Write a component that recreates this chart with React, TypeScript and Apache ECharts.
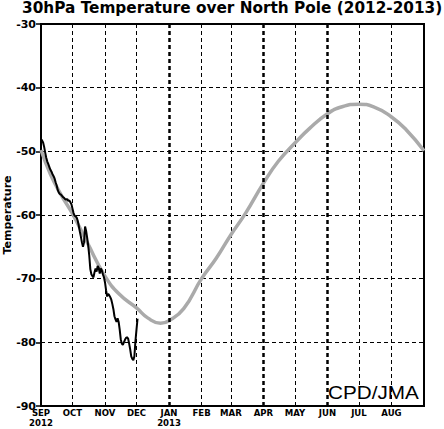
import React, { useEffect, useRef } from "react";
import * as echarts from "echarts";

const TITLE = "30hPa Temperature over North Pole (2012-2013)";
const Y_NAME = "Temperature";
const CREDIT = "CPD/JMA";
const MONTHS = ["JAN", "FEB", "MAR", "APR", "MAY", "JUN", "JUL", "AUG", "SEP", "OCT", "NOV", "DEC"];
const Y_MIN = -90;
const Y_MAX = -30;
const Y_STEP = 10;
const START_DATE = "2012-09-01";
const END_DATE = "2013-09-01";

// climatology (gray)
const climDates = [
  "2012-09-01", "2012-09-10", "2012-09-20", "2012-10-01", "2012-10-15", "2012-11-01",
  "2012-11-15", "2012-12-01", "2012-12-12", "2012-12-24", "2013-01-01", "2013-01-15",
  "2013-02-01", "2013-02-15", "2013-03-01", "2013-03-15", "2013-04-01", "2013-04-15",
  "2013-05-01", "2013-05-15", "2013-06-01", "2013-06-15", "2013-07-01", "2013-07-15",
  "2013-08-01", "2013-08-15", "2013-09-01",
];
const climValues = [
  -49.8, -53.6, -56.8, -59.8, -64.3, -69.6,
  -72.5, -74.6, -76.2, -77.0, -76.6, -74.7,
  -70.0, -66.8, -63.1, -59.7, -55.0, -51.6,
  -48.7, -46.4, -44.1, -43.0, -42.6, -43.0,
  -44.6, -46.6, -49.9,
];

// observed daily values from 2012-09-01 (black)
const obsValues = [
  -48.1, -48.3, -48.6, -49.3, -50.2, -51.0, -51.6, -52.0, -52.5, -52.9,
  -53.2, -53.6, -53.9, -54.3, -54.9, -55.4, -56.1, -56.5, -56.7, -56.8,
  -57.0, -57.2, -57.3, -57.5, -57.6, -57.5, -57.8, -57.7, -58.0, -58.3,
  -59.0, -59.7, -60.1, -60.2, -60.4, -60.9, -61.7, -62.6, -63.4, -64.3,
  -65.0, -64.3, -61.8, -62.5, -63.6, -64.8, -66.4, -68.5, -69.3, -69.6,
  -69.8, -69.0, -68.4, -68.9, -68.0, -68.3, -69.2, -68.4, -68.7, -69.3,
  -69.8, -70.6, -71.8, -72.8, -72.4, -72.6, -72.9, -73.3, -74.0, -74.8,
  -75.9, -76.4, -76.8, -76.2, -76.8, -78.0, -79.5, -80.2, -80.4, -80.0,
  -79.6, -79.3, -79.2, -79.4, -80.2, -81.1, -82.2, -82.6, -82.8, -82.2,
  -79.8, -78.0, -76.3,
];

const boldMonthLines = ["2013-01-01", "2013-04-01", "2013-06-01"];

function buildCategories(start: string, end: string): string[] {
  const out: string[] = [];
  const s = new Date(start + "T00:00:00Z").getTime();
  const e = new Date(end + "T00:00:00Z").getTime();
  for (let t = s; t <= e; t += 86400000) {
    out.push(new Date(t).toISOString().slice(0, 10));
  }
  return out;
}

export default function App() {
  const ref = useRef<HTMLDivElement>(null);

  useEffect(() => {
    if (!ref.current) return;
    const chart = echarts.init(ref.current, null, { renderer: "svg" });
    const cats = buildCategories(START_DATE, END_DATE);
    const lastIdx = cats.length - 1;
    const isMonthStart = (_i: number, v: string) => v.endsWith("-01");
    const isLabel = (i: number, v: string) => v.endsWith("-01") && i !== lastIdx;

    const option: any = {
      animation: false,
      backgroundColor: "#fff",
      title: {
        text: TITLE,
        left: 22,
        top: 0,
        padding: 0,
        textStyle: {
          fontFamily: "DejaVu Sans",
          fontWeight: "bold",
          fontSize: 15.3,
          color: "#000",
        },
      },
      grid: {
        left: 41,
        right: 20,
        top: 24,
        bottom: 23,
        containLabel: false,
        outerBoundsMode: "none",
        show: true,
        borderColor: "#000",
        borderWidth: 2,
        backgroundColor: "transparent",
      },
      xAxis: [
        {
          type: "category",
          data: cats,
          boundaryGap: false,
          position: "bottom",
          axisLine: { show: true, lineStyle: { color: "#000", width: 2 } },
          axisTick: { show: true, inside: true, length: 4, interval: isMonthStart, lineStyle: { color: "#000", width: 1 } },
          splitLine: { show: true, interval: isMonthStart, lineStyle: { color: "#000", width: 1, type: [4, 3] } },
          axisLabel: {
            interval: isLabel,
            margin: 1,
            color: "#000",
            fontFamily: "Liberation Sans Narrow, DejaVu Sans Condensed, sans-serif",
            fontWeight: "bold",
            fontSize: 9.5,
            lineHeight: 10.5,
            formatter: (v: string) => {
              const y = v.slice(0, 4);
              const m = parseInt(v.slice(5, 7), 10);
              const name = MONTHS[m - 1];
              if (v === START_DATE || m === 1) return name + "\n" + y;
              return name;
            },
          },
        },
        {
          type: "category",
          data: cats,
          boundaryGap: false,
          position: "top",
          axisLine: { show: true, lineStyle: { color: "#000", width: 2 } },
          axisTick: { show: true, inside: true, length: 4, interval: isMonthStart, lineStyle: { color: "#000", width: 1 } },
          splitLine: { show: false },
          axisLabel: { show: false },
        },
      ],
      yAxis: {
        type: "value",
        min: Y_MIN,
        max: Y_MAX,
        interval: Y_STEP,
        name: Y_NAME,
        nameLocation: "middle",
        nameGap: 28,
        nameMoveOverlap: false,
        nameTextStyle: {
          fontFamily: "DejaVu Sans",
          fontWeight: "bold",
          fontSize: 11,
          color: "#000",
        },
        axisLine: { show: true, lineStyle: { color: "#000", width: 2 } },
        axisTick: { show: true, inside: false, length: 5, lineStyle: { color: "#000", width: 1.5 } },
        splitLine: { show: true, lineStyle: { color: "#000", width: 1, type: [4, 3] } },
        axisLabel: {
          margin: 5,
          color: "#000",
          fontFamily: "DejaVu Sans",
          fontWeight: "bold",
          fontSize: 11,
        },
      },
      series: [
        {
          type: "line",
          name: "climatology",
          data: climDates.map((d, i) => [d, climValues[i]]),
          smooth: 0.5,
          symbol: "none",
          lineStyle: { color: "#aaaaaa", width: 3.5 },
          z: 2,
          markLine: {
            silent: true,
            symbol: ["none", "none"],
            label: { show: false },
            lineStyle: { color: "#000", width: 2.5, type: [4, 3] },
            data: boldMonthLines.map((d) => ({ xAxis: d })),
          },
        },
        {
          type: "line",
          name: "observed",
          data: obsValues,
          symbol: "none",
          lineStyle: { color: "#000", width: 2 },
          z: 3,
        },
      ],
      graphic: [
        {
          type: "text",
          x: 328,
          y: 393,
          scaleX: 1.15,
          style: {
            text: CREDIT,
            font: '18px "Liberation Sans", Arial, sans-serif',
            fill: "#000",
            textAlign: "left",
            textVerticalAlign: "middle",
            align: "left",
            verticalAlign: "middle",
          },
          z: 10,
        },
      ],
    };
    chart.setOption(option);
    return () => chart.dispose();
  }, []);

  return (
    <div
      ref={ref}
      style={{ position: "absolute", left: 0, top: 0, width: 444, height: 429 }}
    />
  );
}
